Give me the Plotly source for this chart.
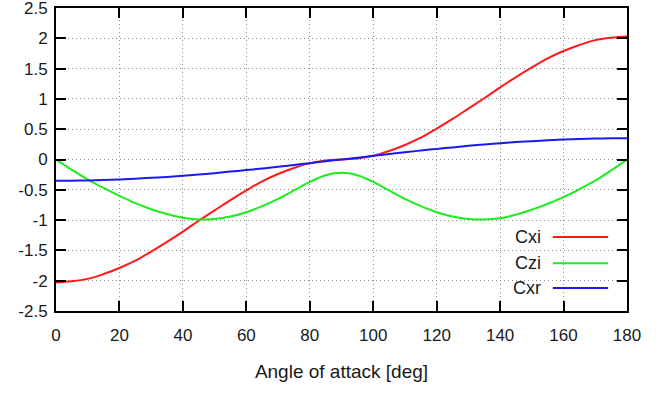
import plotly.graph_objects as go

angle = [0, 5, 10, 15, 20, 25, 30, 35, 40, 45, 50, 55, 60, 65, 70, 75, 80, 85, 90,
         95, 100, 105, 110, 115, 120, 125, 130, 135, 140, 145, 150, 155, 160, 165, 170, 175, 180]

cxi = [-2.03, -2.01, -1.97, -1.89, -1.79, -1.67, -1.52, -1.36, -1.19, -1.01, -0.84, -0.67, -0.51,
       -0.36, -0.24, -0.14, -0.06, -0.015, 0.0,
       0.015, 0.06, 0.14, 0.24, 0.36, 0.51, 0.67, 0.84, 1.01, 1.19, 1.36, 1.52, 1.67, 1.79, 1.89,
       1.97, 2.01, 2.03]

czi = [0.0, -0.17, -0.33, -0.47, -0.6, -0.72, -0.82, -0.9, -0.96, -0.99, -0.98, -0.94, -0.87,
       -0.77, -0.65, -0.51, -0.37, -0.26, -0.22,
       -0.26, -0.37, -0.51, -0.65, -0.77, -0.87, -0.94, -0.98, -0.99, -0.97, -0.91, -0.83, -0.73,
       -0.62, -0.49, -0.35, -0.18, 0.0]

cxr = [-0.35, -0.349, -0.345, -0.338, -0.329, -0.317, -0.303, -0.287, -0.268, -0.247, -0.225,
       -0.2, -0.175, -0.148, -0.12, -0.09, -0.061, -0.03, 0.0,
       0.03, 0.061, 0.09, 0.12, 0.148, 0.175, 0.2, 0.225, 0.247, 0.268, 0.287, 0.303, 0.317,
       0.329, 0.338, 0.345, 0.349, 0.35]

series_names = ["Cxi", "Czi", "Cxr"]
series_values = [cxi, czi, cxr]
series_colors = ["#ff1a1a", "#1aee1a", "#1a1aee"]

x_ticks = [0, 20, 40, 60, 80, 100, 120, 140, 160, 180]
y_ticks = [-2.5, -2, -1.5, -1, -0.5, 0, 0.5, 1, 1.5, 2, 2.5]
y_tick_text = ["-2.5", "-2", "-1.5", "-1", "-0.5", "0", "0.5", "1", "1.5", "2", "2.5"]

font_family = "Liberation Sans, Arial, sans-serif"

fig = go.Figure()
for name, vals, col in zip(series_names, series_values, series_colors):
    fig.add_trace(go.Scatter(x=angle, y=vals, mode="lines", name=name,
                             line=dict(color=col, width=2, shape="spline", smoothing=1.0),
                             showlegend=False))

# gnuplot-style legend (text left, line sample right)
leg_y = [0.244, 0.158, 0.076]
for name, col, yy in zip(series_names, series_colors, leg_y):
    fig.add_annotation(x=0.853, y=yy, xref="paper", yref="paper", text=name, showarrow=False,
                       xanchor="right", yanchor="middle",
                       font=dict(family=font_family, size=18, color="#1a1a1a"))
    fig.add_shape(type="line", xref="paper", yref="paper", x0=0.870, x1=0.967, y0=yy, y1=yy,
                  line=dict(color=col, width=2))

axis_common = dict(showline=True, linecolor="black", linewidth=2, mirror="ticks",
                   ticks="inside", ticklen=10, tickwidth=2, tickcolor="black",
                   showgrid=True, gridcolor="#8c8c8c", griddash="1px,3px", gridwidth=1,
                   zeroline=False, automargin=False, ticklabeloverflow="allow",
                   tickfont=dict(family=font_family, size=17, color="#1a1a1a"))

fig.update_xaxes(range=[0, 180], tickvals=x_ticks, ticktext=[str(t) for t in x_ticks],
                 ticklabelstandoff=8,
                 title=dict(text="Angle of attack [deg]", standoff=20,
                            font=dict(family=font_family, size=19, color="#1a1a1a")),
                 **axis_common)
fig.update_yaxes(range=[-2.5, 2.5], tickvals=y_ticks, ticktext=y_tick_text,
                 ticklabelstandoff=3, **axis_common)

fig.update_layout(width=668, height=394, margin=dict(l=56, r=41, t=8, b=83),
                  plot_bgcolor="white", paper_bgcolor="white",
                  font=dict(family=font_family))

fig.write_html("out.html")
